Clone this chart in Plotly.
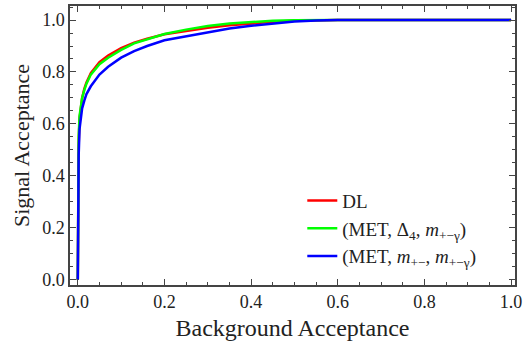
import plotly.graph_objects as go

# Background acceptance (false positive rate) grid
fpr = [0, 0.001, 0.002, 0.004, 0.007, 0.01, 0.015, 0.02, 0.03, 0.04, 0.05, 0.07,
       0.1, 0.13, 0.16, 0.2, 0.25, 0.3, 0.35, 0.4, 0.45, 0.5, 0.55, 0.6, 0.7, 0.8, 0.9, 1.0]

# Signal acceptance per method
sig_dl = [0, 0.33, 0.52, 0.62, 0.665, 0.70, 0.735, 0.76, 0.795, 0.818, 0.838, 0.863,
          0.892, 0.913, 0.928, 0.945, 0.958, 0.970, 0.980, 0.987, 0.993, 0.997, 0.999,
          1.0, 1.0, 1.0, 1.0, 1.0]
sig_met_d4 = [0, 0.35, 0.55, 0.63, 0.67, 0.70, 0.73, 0.755, 0.79, 0.81, 0.83, 0.855,
              0.885, 0.91, 0.925, 0.946, 0.963, 0.977, 0.987, 0.993, 0.997, 0.999, 1.0,
              1.0, 1.0, 1.0, 1.0, 1.0]
sig_met_m = [0, 0.30, 0.48, 0.58, 0.63, 0.66, 0.69, 0.715, 0.745, 0.77, 0.79, 0.82,
             0.855, 0.88, 0.90, 0.922, 0.937, 0.953, 0.967, 0.978, 0.987, 0.994, 0.998,
             1.0, 1.0, 1.0, 1.0, 1.0]

names = ["DL",
         "(MET, Δ<sub>4</sub>, <i>m</i><sub>+−γ</sub>)",
         "(MET, <i>m</i><sub>+−</sub>, <i>m</i><sub>+−γ</sub>)"]
colors = ["#FF0000", "#00FF00", "#0000FF"]
series = [sig_dl, sig_met_d4, sig_met_m]

tick_vals = [0.0, 0.2, 0.4, 0.6, 0.8, 1.0]
tick_text = ["0.0", "0.2", "0.4", "0.6", "0.8", "1.0"]

fig = go.Figure()
for name, col, ys in zip(names, colors, series):
    fig.add_trace(go.Scatter(x=fpr, y=ys, mode="lines", name=name,
                             line=dict(color=col, width=2.5)))

FONT = "Liberation Serif"
axis_common = dict(
    showgrid=False, zeroline=False, showline=True, linecolor="#444", linewidth=1.5,
    mirror="ticks", ticks="inside", ticklen=6, tickwidth=1, tickcolor="#444",
    tickvals=tick_vals, ticktext=tick_text, ticklabeloverflow="allow",
    tickfont=dict(family=FONT, size=18, color="#222"),
    minor=dict(dtick=0.05, tick0=0, ticks="inside", ticklen=3.5, tickwidth=1, tickcolor="#444"),
)
fig.update_layout(
    width=526, height=347,
    margin=dict(l=70, r=4, t=6, b=62),
    paper_bgcolor="white", plot_bgcolor="white",
    font=dict(family=FONT, color="#222"),
    xaxis=dict(range=[-0.018, 1.009], title=dict(text="Background Acceptance",
               font=dict(family=FONT, size=24, color="#222"), standoff=8), **axis_common),
    yaxis=dict(range=[-0.02, 1.054], title=dict(text="Signal Acceptance",
               font=dict(family=FONT, size=22, color="#222"), standoff=6), **axis_common),
    legend=dict(x=0.522, y=0.37, xanchor="left", yanchor="top",
                bgcolor="rgba(0,0,0,0)", font=dict(family=FONT, size=19, color="#222"),
                tracegroupgap=0, itemwidth=30),
    showlegend=True,
)
fig.write_html("out.html")
